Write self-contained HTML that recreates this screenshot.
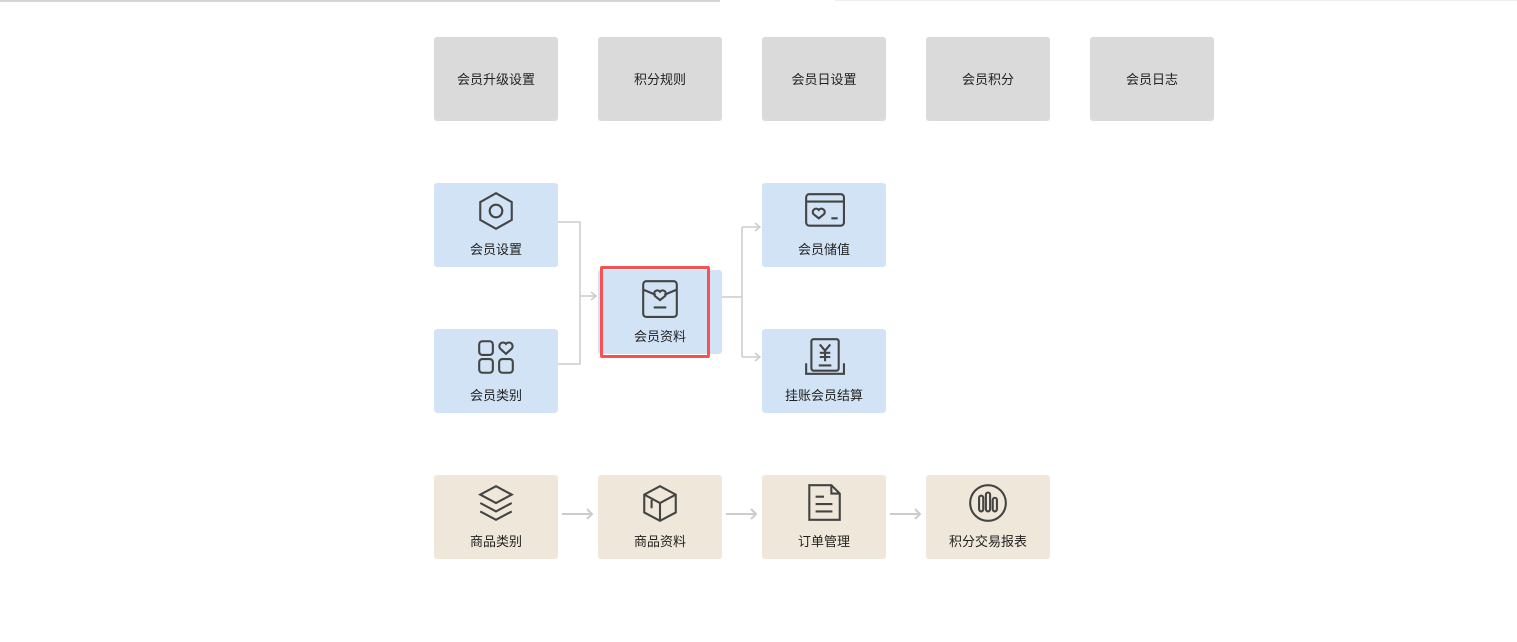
<!DOCTYPE html>
<html><head><meta charset="utf-8"><style>
body{margin:0;width:1517px;height:642px;background:#fff;position:relative;overflow:hidden;font-family:"Liberation Sans","Noto Sans CJK SC",sans-serif;}
.b{position:absolute;width:124px;height:84px;border-radius:3px;font-size:13px;color:#222;text-align:center;}
.g{background:#dadada;line-height:86px;}
.u{background:#d1e3f5;}
.t{background:#efe8da;}
.b span{position:absolute;left:0;right:0;top:57px;line-height:20px;}
.b svg{position:absolute;left:41px;top:7px;}
</style></head><body>
<div style="position:absolute;left:0;top:0;width:720px;height:2px;background:#d4d4d8"></div>
<div style="position:absolute;left:835px;top:0;width:682px;height:1px;background:#eee"></div>

<div class="b g" style="left:434px;top:37px">会员升级设置</div>
<div class="b g" style="left:598px;top:37px">积分规则</div>
<div class="b g" style="left:762px;top:37px">会员日设置</div>
<div class="b g" style="left:926px;top:37px">会员积分</div>
<div class="b g" style="left:1090px;top:37px">会员日志</div>

<svg style="position:absolute;left:0;top:0" width="1517" height="642" fill="none" stroke="#ccc" stroke-width="1.5">
<path d="M558 222H580V364H558M580 296H596M591 292l5 4-5 4"/>
<path d="M722 297H742M742 227V357M742 227H760M742 357H760M755 223l5 4-5 4M755 353l5 4-5 4"/>
<path d="M562 514H592M587 509l5 5-5 5M726 514H756M751 509l5 5-5 5M890 514H920M915 509l5 5-5 5" stroke-width="2"/>
</svg>

<div class="b u" style="left:434px;top:183px"><svg width="42" height="42" viewBox="0 0 40 40" fill="none" stroke="#444" stroke-width="2"><path d="M20 3L35 11.5V28.5L20 37L5 28.5V11.5Z"/><circle cx="20" cy="20" r="6"/></svg><span>会员设置</span></div>
<div class="b u" style="left:434px;top:329px"><svg width="42" height="42" viewBox="0 0 40 40" fill="none" stroke="#444" stroke-width="2"><rect x="4" y="5" width="13" height="13" rx="3"/><rect x="4" y="22" width="13" height="13" rx="3"/><rect x="23" y="22" width="13" height="13" rx="3"/><path d="M29.5 17l-5.5-5a3 3 0 0 1 5.5-4.5a3 3 0 0 1 5.5 4.5Z"/></svg><span>会员类别</span></div>
<div class="b u" style="left:598px;top:270px"><svg width="42" height="42" viewBox="0 0 40 40" fill="none" stroke="#444" stroke-width="2"><rect x="4" y="4" width="32" height="34" rx="3"/><path d="M4 12l12 5M36 12l-12 5M20 22l-5-4a3 3 0 0 1 5-4a3 3 0 0 1 5 4Z"/><path d="M14 29H26"/></svg><span>会员资料</span></div>
<div style="position:absolute;left:600px;top:266px;width:104px;height:86px;border:3px solid #f55353;border-radius:2px"></div>
<div class="b u" style="left:762px;top:183px"><svg width="42" height="42" viewBox="0 0 40 40" fill="none" stroke="#444" stroke-width="2"><rect x="3" y="4" width="36" height="30" rx="3"/><path d="M3 11H39M15 27l-5-4a3 3 0 0 1 5-4a3 3 0 0 1 5 4ZM27 27H33"/></svg><span>会员储值</span></div>
<div class="b u" style="left:762px;top:329px"><svg width="42" height="42" viewBox="0 0 40 40" fill="none" stroke="#444" stroke-width="2"><rect x="8" y="3" width="26" height="30" rx="2"/><path d="M3 26V36H39V26M16 8l5 6 5-6M21 14V24M16 16H26M16 20H26M15 28H27"/></svg><span>挂账会员结算</span></div>

<div class="b t" style="left:434px;top:475px"><svg width="42" height="42" viewBox="0 0 40 40" fill="none" stroke="#444" stroke-width="2"><path d="M20 4L35 12L20 20L5 12Z"/><path d="M5 20L20 28L35 20M5 28L20 36L35 28"/></svg><span>商品类别</span></div>
<div class="b t" style="left:598px;top:475px"><svg width="42" height="42" viewBox="0 0 40 40" fill="none" stroke="#444" stroke-width="2"><path d="M20 4L35 12V29L20 37L5 29V12Z"/><path d="M5 12L20 20L35 12M20 20V37M12 17V25"/></svg><span>商品资料</span></div>
<div class="b t" style="left:762px;top:475px"><svg width="42" height="42" viewBox="0 0 40 40" fill="none" stroke="#444" stroke-width="2"><path d="M6 3H27L35 11V36H6Z"/><path d="M27 3V11H35M12 14H20M12 21H28M12 28H28"/></svg><span>订单管理</span></div>
<div class="b t" style="left:926px;top:475px"><svg width="42" height="42" viewBox="0 0 40 40" fill="none" stroke="#444" stroke-width="2"><circle cx="20" cy="20" r="17"/><rect x="11.5" y="13" width="4" height="15" rx="2"/><rect x="18" y="10" width="4" height="18" rx="2"/><rect x="24.5" y="15" width="4" height="13" rx="2"/></svg><span>积分交易报表</span></div>
</body></html>
